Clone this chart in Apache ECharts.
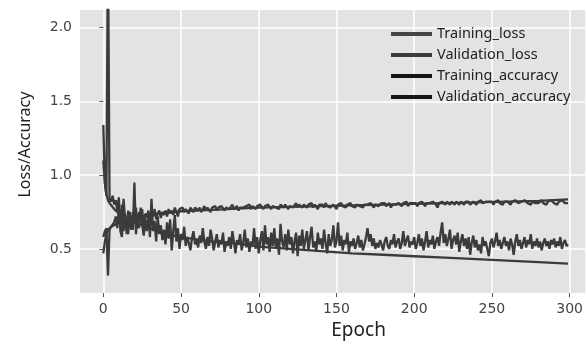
<!DOCTYPE html>
<html>
<head>
<meta charset="utf-8">
<script src="https://cdn.jsdelivr.net/npm/echarts@6/dist/echarts.min.js"></script>
<style>html,body{margin:0;padding:0;background:#fff}#c{width:586px;height:345px}</style>
</head>
<body>
<div id="c"></div>
<script>
// ---- data ----
var seriesNames = ['Training_loss', 'Validation_loss', 'Training_accuracy', 'Validation_accuracy'];
var xTicks = [0, 50, 100, 150, 200, 250, 300];
var yTicks = [0.5, 1.0, 1.5, 2.0];

var trainEpochs = [0,1,2,3,4,5,7,10,15,20,25,30,35,40,50,60,70,80,90,100,120,140,160,180,200,220,240,260,280,299];
var trainLoss = [1.10,0.95,0.87,0.83,0.81,0.80,0.77,0.74,0.70,0.68,0.66,0.64,0.62,0.60,0.58,0.565,0.55,0.54,0.53,0.515,0.50,0.485,0.47,0.46,0.45,0.44,0.43,0.42,0.41,0.40];
var trainAcc = [0.47,0.55,0.60,0.63,0.64,0.65,0.66,0.68,0.70,0.71,0.72,0.73,0.74,0.745,0.755,0.76,0.765,0.77,0.775,0.78,0.785,0.79,0.795,0.80,0.805,0.81,0.815,0.82,0.825,0.835];

var valLoss = [
1.34,0.95,0.86,2.60,0.84,0.82,0.86,0.80,0.83,0.76,
0.85,0.62,0.58,0.84,0.70,0.66,0.60,0.75,0.68,0.63,
0.95,0.60,0.72,0.64,0.78,0.66,0.59,0.70,0.62,0.74,
0.58,0.84,0.62,0.69,0.55,0.72,0.60,0.66,0.56,0.63,
0.53,0.68,0.57,0.70,0.49,0.62,0.73,0.55,0.64,0.50,
0.60,0.56,0.65,0.52,0.58,0.54,0.49,0.57,0.62,0.53,
0.56,0.51,0.59,0.54,0.64,0.55,0.50,0.58,0.52,0.63,
0.57,0.49,0.55,0.60,0.51,0.56,0.53,0.61,0.48,0.55,
0.52,0.58,0.50,0.62,0.55,0.47,0.56,0.53,0.60,0.49,
0.54,0.63,0.51,0.57,0.48,0.55,0.52,0.64,0.50,0.58,
0.47,0.56,0.62,0.49,0.66,0.53,0.58,0.48,0.61,0.52,
0.64,0.50,0.57,0.46,0.67,0.55,0.51,0.60,0.49,0.63,
0.53,0.58,0.47,0.55,0.61,0.45,0.59,0.52,0.63,0.50,
0.56,0.62,0.49,0.58,0.65,0.51,0.55,0.48,0.61,0.53,
0.57,0.50,0.63,0.54,0.47,0.60,0.52,0.56,0.66,0.51,
0.55,0.68,0.52,0.59,0.49,0.56,0.53,0.61,0.48,0.55,
0.52,0.57,0.50,0.54,0.59,0.51,0.56,0.49,0.53,0.58,
0.64,0.55,0.60,0.52,0.57,0.50,0.54,0.51,0.56,0.53,
0.49,0.55,0.58,0.52,0.50,0.56,0.53,0.60,0.51,0.55,
0.57,0.50,0.54,0.62,0.52,0.56,0.59,0.51,0.55,0.53,
0.58,0.50,0.54,0.60,0.52,0.57,0.49,0.55,0.62,0.51,
0.56,0.53,0.59,0.50,0.55,0.58,0.52,0.61,0.68,0.54,
0.60,0.52,0.57,0.63,0.50,0.56,0.59,0.53,0.61,0.48,
0.55,0.60,0.52,0.57,0.50,0.58,0.46,0.54,0.59,0.51,
0.56,0.49,0.53,0.47,0.58,0.52,0.55,0.50,0.45,0.54,
0.57,0.51,0.55,0.61,0.52,0.56,0.50,0.54,0.58,0.52,
0.55,0.49,0.57,0.53,0.46,0.55,0.60,0.52,0.56,0.50,
0.54,0.58,0.51,0.56,0.53,0.60,0.50,0.55,0.52,0.57,
0.51,0.55,0.49,0.54,0.57,0.52,0.55,0.50,0.56,0.53,
0.57,0.51,0.55,0.52,0.58,0.50,0.54,0.56,0.52,0.53
];

var valAcc = [
0.58,0.62,0.64,0.32,0.63,0.65,0.66,0.68,0.72,0.64,
0.78,0.66,0.80,0.62,0.74,0.60,0.76,0.68,0.63,0.75,
0.70,0.78,0.64,0.75,0.69,0.77,0.62,0.74,0.71,0.76,
0.66,0.75,0.72,0.77,0.70,0.74,0.76,0.71,0.75,0.73,
0.76,0.72,0.77,0.74,0.76,0.73,0.78,0.75,0.72,0.77,
0.76,0.78,0.75,0.77,0.76,0.74,0.78,0.77,0.75,0.78,
0.77,0.76,0.78,0.75,0.77,0.79,0.76,0.78,0.77,0.75,
0.78,0.77,0.79,0.76,0.78,0.77,0.79,0.78,0.76,0.78,
0.79,0.77,0.78,0.80,0.77,0.78,0.79,0.76,0.78,0.79,
0.78,0.77,0.79,0.78,0.80,0.77,0.79,0.78,0.77,0.79,
0.78,0.80,0.79,0.77,0.79,0.78,0.80,0.79,0.77,0.79,
0.80,0.78,0.79,0.77,0.80,0.79,0.78,0.80,0.79,0.77,
0.79,0.80,0.78,0.79,0.81,0.78,0.80,0.79,0.78,0.80,
0.79,0.78,0.80,0.79,0.81,0.78,0.80,0.79,0.77,0.80,
0.79,0.80,0.78,0.81,0.79,0.80,0.78,0.79,0.80,0.79,
0.77,0.80,0.79,0.81,0.79,0.80,0.78,0.80,0.79,0.81,
0.79,0.80,0.78,0.80,0.81,0.79,0.80,0.78,0.80,0.81,
0.80,0.79,0.81,0.80,0.78,0.80,0.81,0.79,0.80,0.81,
0.80,0.81,0.79,0.80,0.81,0.78,0.80,0.81,0.80,0.79,
0.81,0.80,0.79,0.81,0.80,0.82,0.79,0.81,0.80,0.81,
0.80,0.81,0.79,0.81,0.80,0.82,0.81,0.79,0.81,0.80,
0.81,0.80,0.82,0.81,0.80,0.78,0.81,0.80,0.82,0.81,
0.80,0.82,0.81,0.80,0.82,0.81,0.80,0.82,0.81,0.80,
0.82,0.81,0.80,0.82,0.81,0.82,0.80,0.81,0.82,0.81,
0.80,0.82,0.81,0.83,0.81,0.80,0.82,0.81,0.82,0.81,
0.82,0.80,0.82,0.81,0.83,0.81,0.82,0.80,0.82,0.81,
0.82,0.81,0.80,0.82,0.81,0.83,0.82,0.81,0.80,0.82,
0.81,0.83,0.82,0.81,0.82,0.80,0.82,0.83,0.81,0.82,
0.81,0.82,0.83,0.81,0.82,0.80,0.82,0.81,0.83,0.82,
0.81,0.82,0.80,0.82,0.81,0.83,0.82,0.81,0.82,0.81
];

// ---- build ----
function pairs(xs, ys) { return ys.map(function (v, i) { return [xs[i], v]; }); }
function seq(ys) { return ys.map(function (v, i) { return [i, v]; }); }

var chart = echarts.init(document.getElementById('c'), null, { renderer: 'canvas' });
var lineColor = '#3b3b3b';
var font = 'Noto Sans';

function mkSeries(name, data, color) {
  return {
    name: name, type: 'line', data: data, symbol: 'none', showSymbol: false,
    lineStyle: { color: color, width: 2.3 }, itemStyle: { color: color },
    clip: true, animation: false
  };
}

chart.setOption({
  animation: false,
  backgroundColor: '#ffffff',
  grid: { left: 80, top: 10, right: 0, bottom: 50, show: true, backgroundColor: '#e3e3e3', borderWidth: 0 },
  legend: {
    orient: 'vertical', left: 386, top: 21, itemGap: 5, itemWidth: 41, itemHeight: 4,
    itemTextGap: 10, icon: 'rect',
    textStyle: { fontFamily: font, fontSize: 14.5, color: '#222', lineHeight: 16 },
    data: [
      { name: seriesNames[0], itemStyle: { color: '#454545' } },
      { name: seriesNames[1], itemStyle: { color: '#3c3c3c' } },
      { name: seriesNames[2], itemStyle: { color: '#151515' } },
      { name: seriesNames[3], itemStyle: { color: '#151515' } }
    ]
  },
  xAxis: {
    type: 'value', min: -15, max: 310,
    name: 'Epoch', nameLocation: 'middle', nameGap: 27,
    nameTextStyle: { fontFamily: font, fontSize: 19, color: '#222', padding: [0, 0, 0, 52] },
    axisLine: { show: false },
    axisTick: { show: true, length: 4, lineStyle: { color: '#555', width: 1 }, customValues: xTicks },
    axisLabel: { fontFamily: 'DejaVu Sans', fontSize: 14, color: '#444', margin: 9, customValues: xTicks },
    splitLine: { show: true, lineStyle: { color: '#ffffff', width: 1.5 } }
  },
  yAxis: {
    type: 'value', min: 0.2, max: 2.12,
    name: 'Loss/Accuracy', nameLocation: 'middle', nameGap: 47,
    nameTextStyle: { fontFamily: font, fontSize: 16, color: '#222', padding: [0, 0, 0, 14] },
    axisLine: { show: false },
    axisTick: { show: true, length: 4, lineStyle: { color: '#555', width: 1 }, customValues: yTicks },
    axisLabel: { fontFamily: 'DejaVu Sans', fontSize: 14, color: '#444', margin: 8, customValues: yTicks,
      formatter: function (v) { return v.toFixed(1); } },
    splitLine: { show: true, lineStyle: { color: '#ffffff', width: 1.5 } }
  },
  series: [
    mkSeries(seriesNames[0], pairs(trainEpochs, trainLoss), lineColor),
    mkSeries(seriesNames[1], seq(valLoss), lineColor),
    mkSeries(seriesNames[2], pairs(trainEpochs, trainAcc), lineColor),
    mkSeries(seriesNames[3], seq(valAcc), lineColor)
  ]
});
</script>
</body>
</html>
